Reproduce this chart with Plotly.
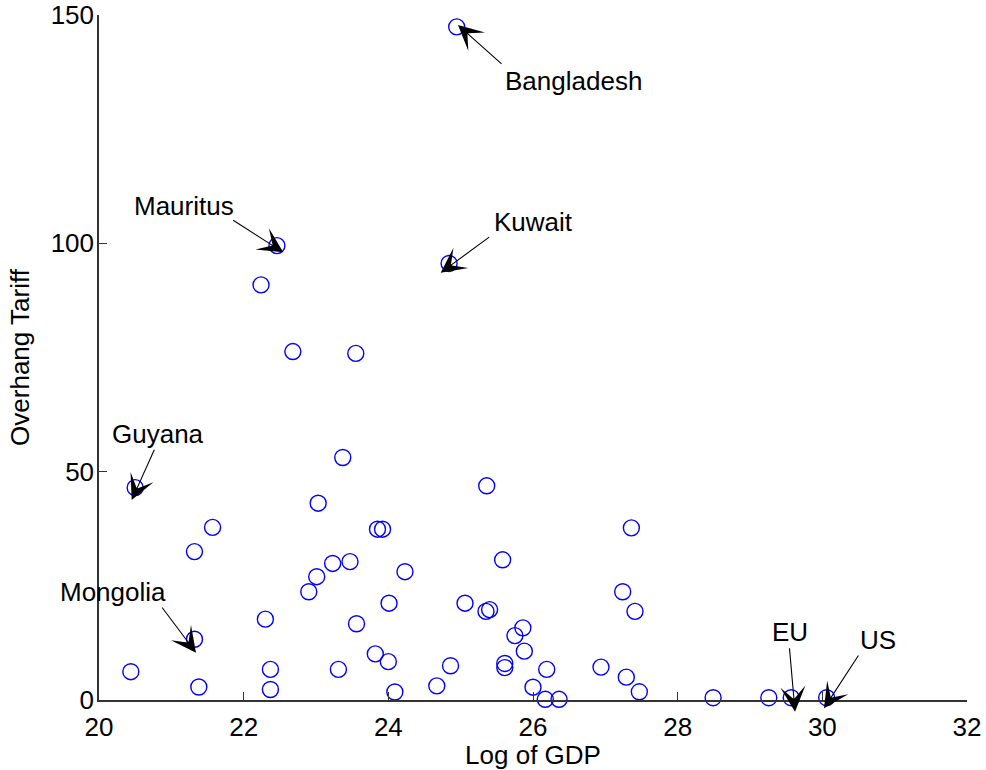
import plotly.graph_objects as go

# ---- data ----
log_gdp = [24.945, 22.46, 24.84, 22.24, 22.68, 23.55, 23.37, 20.50, 25.36, 23.03,
           21.57, 23.85, 23.92, 27.36, 21.32, 25.58, 23.23, 23.47, 23.01, 24.23,
           22.90, 27.24, 24.01, 25.06, 25.35, 25.40, 27.41, 22.30, 23.56, 25.86,
           25.75, 21.32, 25.88, 23.82, 24.00, 25.61, 25.61, 24.86, 26.94, 23.31,
           22.37, 26.19, 20.44, 27.29, 24.67, 21.38, 26.00, 22.37, 24.09, 27.47,
           26.17, 26.36, 28.49, 29.26, 29.57, 30.06]
overhang = [147.4, 99.5, 95.6, 90.9, 76.3, 75.9, 53.1, 46.5, 46.9, 43.1,
            37.8, 37.4, 37.4, 37.7, 32.5, 30.7, 29.9, 30.3, 27.0, 28.1,
            23.7, 23.7, 21.2, 21.2, 19.4, 19.8, 19.4, 17.7, 16.7, 15.8,
            14.1, 13.3, 10.7, 10.1, 8.4, 8.0, 7.1, 7.5, 7.2, 6.7,
            6.7, 6.7, 6.2, 5.0, 3.1, 2.85, 2.8, 2.3, 1.75, 1.8,
            0.15, 0.15, 0.5, 0.5, 0.5, 0.5]

# labelled countries: name, arrow tip (x, y), arrow tail (x, y), text centre (x, y)
label_names = ["Bangladesh", "Kuwait", "Mauritus", "Guyana", "Mongolia", "EU", "US"]
tip_x = [24.963, 24.724, 22.548, 20.452, 21.341, 29.623, 30.023]
tip_y = [147.8, 93.56, 98.03, 43.79, 10.36, -2.56, -1.82]
tail_x = [25.586, 25.415, 21.834, 20.774, 20.857, 29.544, 30.512]
tail_y = [139.0, 101.6, 105.26, 55.11, 20.58, 11.67, 10.07]
text_x = [26.557, 26.004, 21.175, 20.809, 20.194, 29.549, 30.763]
text_y = [135.5, 104.66, 108.17, 58.24, 23.65, 14.89, 13.14]

x_ticks = [20, 22, 24, 26, 28, 30, 32]
y_ticks = [0, 50, 100, 150]

FONT = "Liberation Sans, Arial, Helvetica, sans-serif"
FS = 26

fig = go.Figure()
fig.add_trace(go.Scatter(
    x=log_gdp, y=overhang, mode="markers",
    marker=dict(symbol="circle-open", size=16, color="#0000ff",
                line=dict(color="#0000ff", width=1.4)),
    cliponaxis=False, showlegend=False, hoverinfo="x+y",
))

annotations = []
for i, name in enumerate(label_names):
    annotations.append(dict(
        x=tip_x[i], y=tip_y[i], xref="x", yref="y",
        ax=tail_x[i], ay=tail_y[i], axref="x", ayref="y",
        text="", showarrow=True, arrowhead=3, arrowsize=3.8,
        arrowwidth=1.1, arrowcolor="black", standoff=0, startstandoff=0,
    ))
    annotations.append(dict(
        x=text_x[i], y=text_y[i], xref="x", yref="y",
        text=name, showarrow=False, xanchor="center", yanchor="middle",
        font=dict(family=FONT, size=FS, color="black"),
    ))

axis_common = dict(
    showline=True, linecolor="#333333", linewidth=1.5,
    ticks="inside", ticklen=8, tickwidth=1.2, tickcolor="#333333",
    showgrid=False, zeroline=False, mirror=False, automargin=False,
    ticklabeloverflow="allow",
    tickfont=dict(family=FONT, size=FS, color="black"),
)

fig.update_layout(
    width=986, height=770,
    margin=dict(l=99, r=19, t=15, b=70),
    paper_bgcolor="white", plot_bgcolor="white",
    font=dict(family=FONT, size=FS, color="black"),
    xaxis=dict(range=[20, 32], tickvals=x_ticks, ticktext=[str(v) for v in x_ticks],
               title=dict(text="Log of GDP", font=dict(family=FONT, size=FS), standoff=2),
               ticklabelstandoff=3, **axis_common),
    yaxis=dict(range=[0, 150], tickvals=y_ticks, ticktext=[str(v) for v in y_ticks],
               title=dict(text="Overhang Tariff", font=dict(family=FONT, size=FS), standoff=14),
               ticklabelstandoff=-2, **axis_common),
    annotations=annotations,
)

# remove the default page margin so the figure sits at the window's top-left corner
fig.write_html("out.html", config={"displayModeBar": False},
               post_script="document.body.style.margin='0';")
